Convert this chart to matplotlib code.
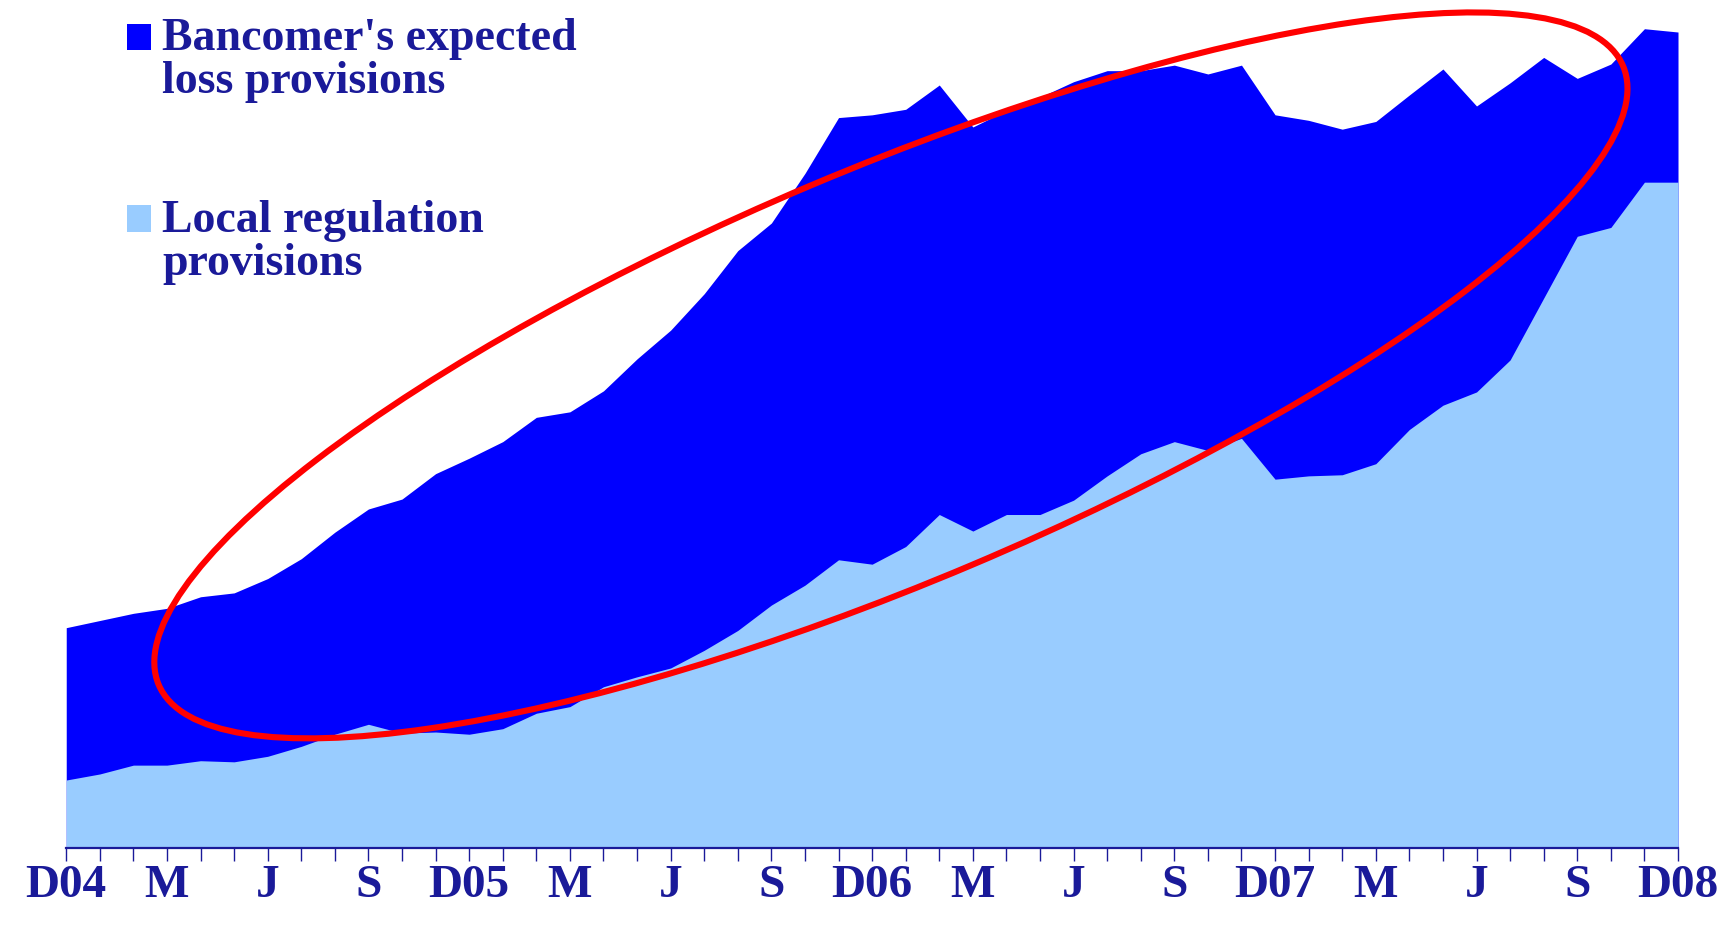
import matplotlib
matplotlib.use("Agg")
import matplotlib.pyplot as plt
from matplotlib.patches import Ellipse, Rectangle
import numpy as np

# monthly provisions, Dec-04 .. Dec-08 (index units)
expected_loss = [19.95, 20.6, 21.25, 21.7, 22.75, 23.1, 24.4, 26.2, 28.6, 30.7,
                 31.6, 33.9, 35.3, 36.8, 39.0, 39.5, 41.4, 44.3, 46.9, 50.2,
                 54.1, 56.6, 61.1, 66.15, 66.4, 66.9, 69.1, 65.3, 66.8, 68.0,
                 69.4, 70.4, 70.4, 70.9, 70.1, 70.9, 66.4, 65.9, 65.1, 65.8,
                 68.2, 70.55, 67.2, 69.3, 71.6, 69.7, 71.0, 74.2, 73.9]
local_reg = [6.15, 6.7, 7.5, 7.5, 7.9, 7.8, 8.3, 9.2, 10.3, 11.2,
             10.4, 10.5, 10.3, 10.8, 12.2, 12.8, 14.6, 15.5, 16.3, 17.9,
             19.7, 22.0, 23.8, 26.1, 25.7, 27.3, 30.2, 28.7, 30.2, 30.2,
             31.5, 33.7, 35.7, 36.8, 36.0, 37.1, 33.4, 33.7, 33.8, 34.8,
             37.9, 40.1, 41.3, 44.2, 49.8, 55.4, 56.2, 60.3, 60.3]
quarter_labels = ["D04", "M", "J", "S", "D05", "M", "J", "S", "D06",
                  "M", "J", "S", "D07", "M", "J", "S", "D08"]

DARK = "#0000FF"
LIGHT = "#99CCFF"
NAVY = "#1A1A99"
FONT = "Liberation Serif"

fig = plt.figure(figsize=(17.31, 9.44), dpi=100)
ax = fig.add_axes([60 / 1568, 1 - 768 / 855, 1460 / 1568, 768 / 855])

months = np.arange(len(expected_loss))
ax.fill_between(months, 0, expected_loss, color=DARK, lw=0)
ax.fill_between(months, 0, local_reg, color=LIGHT, lw=0)

ax.set_xlim(0, len(months) - 1)
ax.set_ylim(0, 76.8)
for side in ["left", "right", "top"]:
    ax.spines[side].set_visible(False)
ax.spines["bottom"].set_color(NAVY)
ax.spines["bottom"].set_linewidth(1.6)
ax.set_yticks([])

ax.set_xticks(months)
labels = [""] * len(months)
for k, lab in enumerate(quarter_labels):
    labels[k * 3] = lab
ax.set_xticklabels(labels, fontfamily=FONT, fontweight="bold", fontsize=34, color=NAVY)
ax.tick_params(axis="x", length=9.5, width=1.0, color=NAVY, pad=3)

# legend drawn by hand
fig.patches.append(Rectangle((115 / 1568, 1 - 45 / 855), 22 / 1568, 23 / 855,
                             transform=fig.transFigure, color=DARK, lw=0))
fig.patches.append(Rectangle((115 / 1568, 1 - 210 / 855), 22 / 1568, 24 / 855,
                             transform=fig.transFigure, color=LIGHT, lw=0))
legend_lines = [("Bancomer's expected", 45), ("loss provisions", 84.5),
                ("Local regulation", 210), ("provisions", 249)]
for txt, base in legend_lines:
    fig.text(147 / 1568, 1 - base / 855, txt, fontfamily=FONT, fontweight="bold",
             fontsize=33, color=NAVY, va="baseline", ha="left")

# red highlight ring drawn in a full-figure overlay
over = fig.add_axes([0, 0, 1, 1])
over.set_xlim(0, 1568)
over.set_ylim(855, 0)
over.axis("off")
over.add_patch(Ellipse((807, 340), width=2 * 720, height=2 * 186.7, angle=-22.9,
                       fill=False, edgecolor="#FF0000", lw=4.4))

fig.savefig("out.png", dpi=100)
